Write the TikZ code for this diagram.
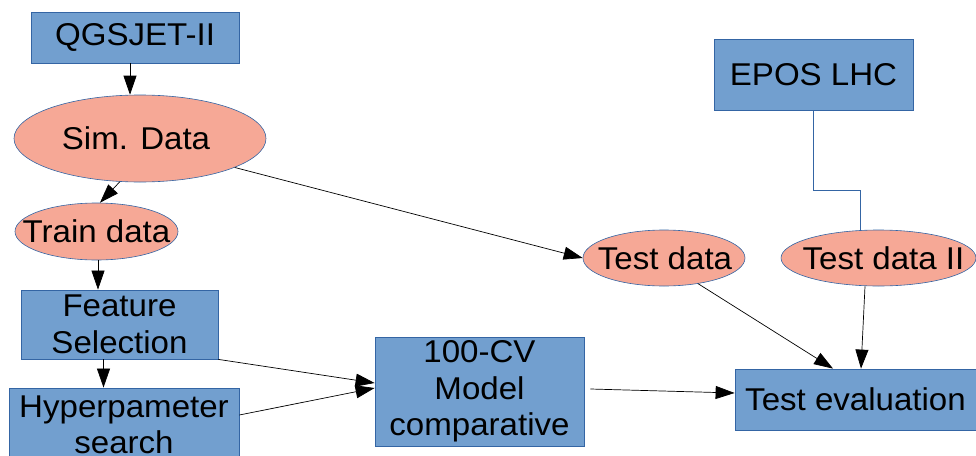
\documentclass[tikz,border=0pt]{standalone}
\usepackage{fontspec}
\setmainfont{Liberation Sans}[FakeStretch=1.05]
\usetikzlibrary{shapes.geometric,arrows.meta,calc}
\definecolor{boxfill}{HTML}{729FCF}
\definecolor{boxline}{HTML}{3465A4}
\definecolor{datafill}{RGB}{246,168,150}
\tikzset{
  label text/.style={font=\fontsize{31.5}{36.5}\selectfont, inner sep=0pt, align=center},
  procbox/.style={label text, rectangle, fill=boxfill, draw=boxline, line width=0.8pt},
  dataset/.style={ellipse, inner sep=0pt, fill=datafill, draw=boxline, line width=0.6pt},
  flow/.style={draw=black, line width=0.7pt, -{Triangle[length=19pt,width=13pt]}},
  link/.style={draw=boxline, line width=0.8pt},
}
\begin{document}
\begin{tikzpicture}[x=1pt,y=-1pt]
\useasboundingbox (0,0) rectangle (976,455);
\clip (0,0) rectangle (976,455);

% sources
\node[procbox, minimum width=208pt, minimum height=51pt] (qgs) at (135,37.5) {QGSJET-II};
\node[procbox, minimum width=199pt, minimum height=71pt] (epos) at (813.5,74.5) {EPOS LHC};

% data sets: ellipse outline plus its caption
\node[dataset, minimum width=252pt, minimum height=87pt] (sim) at (140,138.5) {};
\node[label text] (simtext) at ([xshift=-4pt]sim.center) {Sim. Data};
\node[dataset, minimum width=163pt, minimum height=57pt] (train) at (96.5,231.5) {};
\node[label text] (traintext) at (train) {Train data};
\node[dataset, minimum width=162pt, minimum height=56pt] (test) at (664,258) {};
\node[label text] (testtext) at ([xshift=1pt]test.center) {Test data};
\node[dataset, minimum width=195pt, minimum height=56pt] (test2) at (878.5,258) {};
\node[label text] (test2text) at ([xshift=5pt]test2.center) {Test data II};

% processing steps
\node[procbox, minimum width=197pt, minimum height=69pt] (feat) at (119.5,324.5) {Feature\\Selection};
\node[procbox, minimum width=230pt, minimum height=74pt] (hyp) at (124,425) {Hyperpameter\\search};
\node[procbox, minimum width=209pt, minimum height=109pt] (cv) at (479.5,391.5) {100-CV\\Model\\comparative};
\node[procbox, minimum width=241pt, minimum height=61pt] (eval) at (855.5,399.5) {Test evaluation};

% connectors
\draw[flow] ([xshift=-5pt]qgs.south) -- ([xshift=-5pt]qgs.south |- sim.north);
\draw[flow] (sim.-115) -- ([xshift=3.5pt]train.north);
\draw[flow] (sim.-17) -- (test.west);
\draw[flow] ([xshift=1.5pt]train.south) -- ([xshift=1.5pt]train.south |- feat.north);
\draw[flow] ([xshift=-16pt]feat.south) -- ([xshift=-16pt]feat.south |- hyp.north);
\draw[flow] (feat.south east) -- ([yshift=8.5pt]cv.west);
\draw[flow] ([yshift=10pt]hyp.east) -- ([yshift=3.5pt]cv.west);
\draw[flow] ([xshift=6pt,yshift=2.5pt]cv.east) -- ([yshift=6.5pt]eval.west);
\draw[flow] (test.-37) -- ([xshift=-22.5pt]eval.north);
\draw[flow] ([xshift=-13.5pt]test2.south) -- ([xshift=5.5pt]eval.north);
\draw[link] (epos.south) -- ++(0,80) -| ([xshift=-18.5pt]test2.north);
\end{tikzpicture}
\end{document}
